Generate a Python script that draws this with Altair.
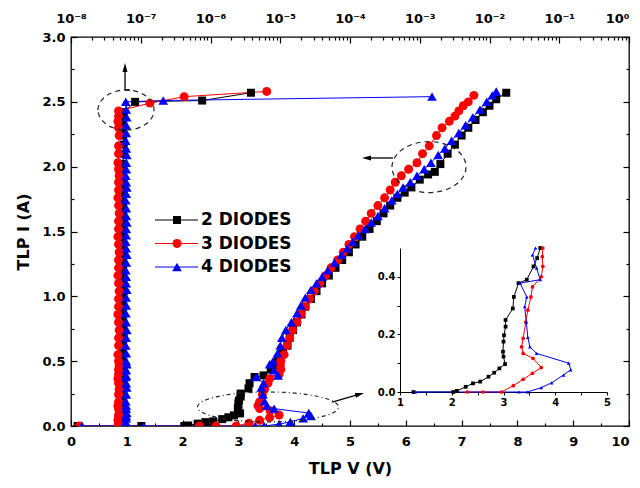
import altair as alt
import pandas as pd

FONT = "DejaVu Sans"

series_names = ["2 DIODES", "3 DIODES", "4 DIODES"]
series_colors = ["#000000", "#ff0000", "#0000ff"]
series_shapes = ["square", "circle", "triangle-up"]
series_sizes = [64, 95, 95]

# ---- TLP I-V data (bottom axis V, left axis I) ----
V_2 = [0.12, 1.26, 2.03, 2.10, 2.27, 2.41, 2.55, 2.71, 2.82, 2.92, 3.03, 3.00, 2.99, 3.00, 3.01, 3.04, 3.04, 3.18,
       3.20, 3.29, 3.45, 3.58, 3.65, 3.71,
       3.80, 3.88, 3.92, 3.98, 4.05, 4.13, 4.20, 4.30, 4.40, 4.50, 4.62, 4.74, 4.86, 4.98, 5.10, 5.22, 5.35, 5.48,
       5.60, 5.72, 5.85, 5.98, 6.10, 6.25, 6.40, 6.52, 6.62, 6.75, 6.88, 7.00, 7.12, 7.25, 7.38, 7.50, 7.62, 7.80]
I_2 = [0, 0, 0, 0.004, 0.018, 0.030, 0.036, 0.053, 0.067, 0.082, 0.097, 0.123, 0.140, 0.175, 0.197, 0.227, 0.250,
       0.290, 0.330, 0.378, 0.390, 0.436, 0.465, 0.500,
       0.56, 0.62, 0.68, 0.74, 0.80, 0.86, 0.92, 0.98, 1.04, 1.10, 1.16, 1.22, 1.28, 1.34, 1.40, 1.46, 1.52, 1.58,
       1.64, 1.70, 1.76, 1.80, 1.84, 1.90, 1.94, 1.96, 2.02, 2.10, 2.17, 2.24, 2.30, 2.36, 2.42, 2.47, 2.52, 2.57]

V_3 = [0.15, 2.30, 2.60, 2.96, 3.19, 3.38, 3.56, 3.73, 3.57, 3.38, 3.35, 3.38, 3.43, 3.47, 3.53, 3.56, 3.73, 3.76,
       3.75, 3.76,
       3.82, 3.87, 3.92, 3.97, 4.05, 4.12, 4.20, 4.28, 4.36, 4.46, 4.56, 4.66, 4.78, 4.88, 4.98, 5.08, 5.18, 5.28,
       5.38, 5.50, 5.62, 5.72, 5.81, 5.92, 6.05, 6.20, 6.30, 6.42, 6.55, 6.65, 6.78, 6.88, 6.95, 7.03, 7.12, 7.22]
I_3 = [0, 0, 0, 0, 0.022, 0.044, 0.065, 0.085, 0.117, 0.134, 0.157, 0.186, 0.243, 0.284, 0.330, 0.365, 0.400, 0.436,
       0.470, 0.500,
       0.55, 0.62, 0.68, 0.74, 0.80, 0.86, 0.92, 0.98, 1.04, 1.10, 1.16, 1.22, 1.28, 1.34, 1.40, 1.46, 1.52, 1.58,
       1.64, 1.70, 1.76, 1.82, 1.88, 1.93, 1.98, 2.03, 2.10, 2.16, 2.24, 2.30, 2.35, 2.39, 2.43, 2.47, 2.50, 2.55]

V_4 = [0.20, 1.30, 3.30, 3.46, 3.73, 3.93, 4.16, 4.30, 4.26, 3.64, 3.51, 3.47, 3.44, 3.41, 3.45, 3.32, 3.71, 3.64,
       3.56, 3.62,
       3.70, 3.75, 3.78, 3.85, 3.95, 4.05, 4.12, 4.20, 4.30, 4.40, 4.50, 4.60, 4.72, 4.85, 4.95, 5.05, 5.15, 5.27,
       5.38, 5.50, 5.62, 5.75, 5.85, 5.95, 6.08, 6.20, 6.33, 6.45, 6.58, 6.70, 6.82, 6.95, 7.07, 7.20, 7.33, 7.45,
       7.55, 7.62]
I_4 = [0, 0, 0, 0, 0.015, 0.032, 0.059, 0.077, 0.100, 0.134, 0.157, 0.190, 0.243, 0.296, 0.330, 0.378, 0.390, 0.430,
       0.476, 0.500,
       0.56, 0.62, 0.68, 0.74, 0.80, 0.87, 0.93, 0.99, 1.05, 1.10, 1.15, 1.20, 1.26, 1.32, 1.37, 1.42, 1.47, 1.52,
       1.57, 1.62, 1.68, 1.74, 1.79, 1.84, 1.88, 1.93, 1.98, 2.03, 2.09, 2.14, 2.20, 2.26, 2.32, 2.38, 2.44, 2.50,
       2.55, 2.58]

# ---- leakage current after each pulse (top log axis), in units of 1e-8 A ----
leak_2_e8 = [5.6, 5.5, 5.7, 5.6, 5.6, 5.5, 5.6, 5.7, 5.6, 5.5,
             5.6, 5.6, 5.7, 5.6, 5.5, 5.6, 5.6, 5.7, 5.6, 5.5,
             5.6, 5.7, 5.6, 5.6, 5.5, 5.6, 5.7, 5.6, 5.6, 5.5,
             5.6, 5.6, 5.7, 5.6, 5.5, 5.6, 5.6, 5.7, 5.6, 5.5,
             5.6, 5.7, 5.6, 5.6, 5.5, 5.6, 5.7, 5.6, 5.6, 5.5,
             5.6, 5.6, 5.7, 5.6, 5.5, 5.6, 5.7,
             8.3, 76.0, 380.0]
leak_2_post_I = [2.50, 2.51, 2.57]

leak_3_e8 = [4.8, 4.7, 4.8, 4.9, 4.8, 4.7, 4.8, 4.8, 4.9, 4.8,
             4.7, 4.8, 4.8, 4.9, 4.8, 4.7, 4.8, 4.8, 4.9, 4.8,
             4.7, 4.8, 4.8, 4.9, 4.8, 4.7, 4.8, 4.8, 4.9, 4.8,
             4.7, 4.8, 4.8, 4.9, 4.8, 4.7, 4.8, 4.8, 4.9, 4.8,
             4.7, 4.8, 4.8, 4.9, 4.8, 4.7, 4.8, 4.8, 4.9, 4.8,
             4.7, 4.8, 4.8,
             13.5, 42.0, 640.0]
leak_3_post_I = [2.49, 2.54, 2.58]

leak_4_e8 = [6.2, 6.1, 6.2, 6.3, 6.2, 6.1, 6.2, 6.2, 6.3, 6.2,
             6.2, 6.1, 6.2, 6.3, 6.2, 6.1, 6.2, 6.2, 6.3, 6.2,
             6.2, 6.1, 6.2, 6.3, 6.2, 6.1, 6.2, 6.2, 6.3, 6.2,
             6.2, 6.1, 6.2, 6.3, 6.2, 6.1, 6.2, 6.2, 6.3, 6.2,
             6.2, 6.1, 6.2, 6.3, 6.2, 6.1, 6.2, 6.2, 6.3, 6.2,
             6.1, 6.2, 6.2, 6.3, 6.2, 6.1,
             21.0, 150000.0]
leak_4_post_I = [2.51, 2.54]

# ---- tick values / labels ----
x_ticks = list(range(0, 11))
x_minor = [k + 0.5 for k in range(10)]
y_ticks = [0.0, 0.5, 1.0, 1.5, 2.0, 2.5, 3.0]
y_minor = [0.25, 0.75, 1.25, 1.75, 2.25, 2.75]
top_ticks = [1e-8, 1e-7, 1e-6, 1e-5, 1e-4, 1e-3, 1e-2, 1e-1, 1e0]
top_labels = ["10⁻⁸", "10⁻⁷", "10⁻⁶", "10⁻⁵", "10⁻⁴", "10⁻³", "10⁻²", "10⁻¹", "10⁰"]
top_minor = [m * 10.0 ** e for e in range(-8, 0) for m in range(2, 10)]
inset_x_ticks = [1, 1.5, 2, 2.5, 3, 3.5, 4, 4.5, 5]
inset_y_ticks = [0.0, 0.1, 0.2, 0.3, 0.4]

# ---- build tables ----
frames, leak_frames = [], []
for name, V, I, lk, post in zip(series_names, [V_2, V_3, V_4], [I_2, I_3, I_4],
                                [leak_2_e8, leak_3_e8, leak_4_e8],
                                [leak_2_post_I, leak_3_post_I, leak_4_post_I]):
    frames.append(pd.DataFrame({"series": name, "V": V, "I": I, "idx": list(range(len(V)))}))
    n_col = len(lk) - len(post)
    LI = list(I[:n_col]) + list(post)
    leak_frames.append(pd.DataFrame({"series": name, "L": [v * 1e-8 for v in lk], "I": LI,
                                     "idx": list(range(len(lk)))}))
tlp = pd.concat(frames, ignore_index=True)
leak = pd.concat(leak_frames, ignore_index=True)
inset_df = tlp[(tlp["V"] >= 1) & (tlp["I"] <= 0.5)]

W, H = 558, 389

color_enc = alt.Color("series:N", scale=alt.Scale(domain=series_names, range=series_colors), legend=None)
shape_enc = alt.Shape("series:N", scale=alt.Scale(domain=series_names, range=series_shapes), legend=None)
size_enc = alt.Size("series:N", scale=alt.Scale(domain=series_names, range=series_sizes), legend=None)

lab = dict(labelFont=FONT, labelFontWeight="bold", labelColor="black", tickColor="black",
           grid=False, labelFlush=False, labelOverlap=False)

x_lin = alt.Scale(domain=[0, 10], nice=False, zero=False)
y_lin = alt.Scale(domain=[0, 3], nice=False, zero=False)
x_log = alt.Scale(type="log", domain=[1e-8, 1], nice=False)

# ---- main TLP layer ----
main_x = alt.X("V:Q", scale=x_lin, axis=alt.Axis(
    orient="bottom", values=x_ticks, tickSize=6, offset=-6, domain=False, tickWidth=1.2,
    labelAlign={"condition": {"test": "datum.value >= 10", "value": "right"}, "value": "center"},
    labelFontSize=13, labelPadding=9, title="TLP V (V)", titleFont=FONT, titleFontSize=16,
    titleFontWeight="bold", titleColor="black", titlePadding=12, **lab))
main_y = alt.Y("I:Q", scale=y_lin, axis=alt.Axis(
    orient="left", values=y_ticks, format=".1f", tickSize=6, offset=-6, domain=False, tickWidth=1.2,
    labelFontSize=13, labelPadding=6, title="TLP I (A)", titleFont=FONT, titleFontSize=16,
    titleFontWeight="bold", titleColor="black", titlePadding=10, **lab))
main_base = alt.Chart(tlp).encode(x=main_x, y=main_y, color=color_enc)
main = alt.layer(
    main_base.mark_line(strokeWidth=1, clip=True).encode(order="idx:Q"),
    main_base.mark_point(filled=True, opacity=1, clip=True).encode(shape=shape_enc, size=size_enc),
)

# ---- leakage layer (top log axis, right axis ticks) ----
top_expr = "[" + ",".join("'" + s + "'" for s in top_labels) + "][round(log(datum.value)/LN10)+8]"
leak_x = alt.X("L:Q", scale=x_log, axis=alt.Axis(
    orient="top", values=top_ticks, labelExpr=top_expr, tickSize=6, offset=-6, domain=False, tickWidth=1.2,
    labelAlign={"condition": {"test": "datum.value >= 1", "value": "right"}, "value": "center"},
    labelFontSize=13, labelPadding=12, title=None, **lab))
leak_y = alt.Y("I:Q", scale=y_lin, axis=alt.Axis(
    orient="right", values=y_ticks, labels=False, tickSize=6, offset=-6, domain=False, tickWidth=1.2,
    title=None, tickColor="black", grid=False))
leak_base = alt.Chart(leak).encode(x=leak_x, y=leak_y, color=color_enc)
leak_layer = alt.layer(
    leak_base.mark_line(strokeWidth=1, clip=True).encode(order="idx:Q"),
    leak_base.mark_point(filled=True, opacity=1, clip=True).encode(shape=shape_enc, size=size_enc),
)

# ---- minor tick layers ----
dummy_lin = pd.DataFrame({"a": [0, 10], "b": [0, 3]})
dummy_log = pd.DataFrame({"a": [1e-8, 1], "b": [0, 3]})
minor_a = alt.Chart(dummy_lin).mark_point(opacity=0).encode(
    x=alt.X("a:Q", scale=x_lin, axis=alt.Axis(orient="bottom", values=x_minor, labels=False, tickSize=3,
                                               offset=-3, domain=False, title=None, tickColor="black",
                                               tickWidth=1.2, grid=False)),
    y=alt.Y("b:Q", scale=y_lin, axis=alt.Axis(orient="left", values=y_minor, labels=False, tickSize=3,
                                               offset=-3, domain=False, title=None, tickColor="black",
                                               tickWidth=1.2, grid=False)))
minor_b = alt.Chart(dummy_log).mark_point(opacity=0).encode(
    x=alt.X("a:Q", scale=x_log, axis=alt.Axis(orient="top", values=top_minor, labels=False, tickSize=3,
                                               offset=-3, domain=False, title=None, tickColor="black",
                                               tickWidth=1.2, grid=False)),
    y=alt.Y("b:Q", scale=y_lin, axis=alt.Axis(orient="right", values=y_minor, labels=False, tickSize=3,
                                               offset=-3, domain=False, title=None, tickColor="black",
                                               tickWidth=1.2, grid=False)))

# ---- inset ----
inset_x = alt.X("V:Q", scale=alt.Scale(domain=[1, 5], range=[329, 536], nice=False, zero=False),
                axis=alt.Axis(orient="bottom", offset=-34, values=inset_x_ticks, format=".0f",
                              labelExpr="datum.value % 1 == 0 ? datum.label : ''", tickSize=3,
                              domain=True, domainColor="black", domainWidth=1, labelFontSize=10,
                              labelPadding=2, title=None, **lab))
inset_y = alt.Y("I:Q", scale=alt.Scale(domain=[0, 0.5], range=[355, 211], nice=False, zero=False),
                axis=alt.Axis(orient="left", offset=-329, values=inset_y_ticks, format=".1f",
                              labelExpr="(round(datum.value*10) % 2 == 0) ? datum.label : ''", tickSize=3,
                              domain=True, domainColor="black", domainWidth=1, labelFontSize=10,
                              labelPadding=2, title=None, **lab))
inset_base = alt.Chart(inset_df).encode(x=inset_x, y=inset_y, color=color_enc)
inset = alt.layer(
    inset_base.mark_line(strokeWidth=1).encode(order="idx:Q"),
    inset_base.mark_point(filled=True, opacity=1, size=14).encode(shape=shape_enc),
)

# ---- annotations (dashed ellipses and arrows) in main data coordinates ----
def ax(field):
    return alt.X(field, scale=x_lin, axis=None)

def ay(field):
    return alt.Y(field, scale=y_lin, axis=None)

def ellipse(cx, cy, w, h, dash):
    r = h / w
    path = f"M -1 0 A 1 {r:.3f} 0 1 1 1 0 A 1 {r:.3f} 0 1 1 -1 0 Z"
    return alt.Chart(pd.DataFrame({"x": [cx], "y": [cy]})).mark_point(
        shape=path, size=w * w, filled=False, stroke="#222222", strokeWidth=1.2, strokeDash=dash, opacity=1
    ).encode(x=ax("x:Q"), y=ay("y:Q"))

arrow_lines = pd.DataFrame({
    "x": [0.968, 0.968, 5.77, 4.68],
    "y": [2.591, 2.591, 2.067, 0.185],
    "x2": [0.968, 1.057, 5.30, 5.174],
    "y2": [2.765, 2.591, 2.067, 0.245],
})
arrow_heads = pd.DataFrame({"x": [0.968, 5.296, 5.174], "y": [2.765, 2.067, 0.245], "ang": [0, 270, 74]})

lines_chart = alt.Chart(arrow_lines).mark_rule(color="black", strokeWidth=1.3).encode(
    x=ax("x:Q"), y=ay("y:Q"), x2="x2:Q", y2="y2:Q")
heads_chart = alt.Chart(arrow_heads).mark_point(
    shape="M 0 -1 L 0.55 1 L -0.55 1 Z", filled=True, color="black", size=81, opacity=1
).encode(x=ax("x:Q"), y=ay("y:Q"), angle=alt.Angle("ang:Q", scale=None))

e1 = ellipse(0.986, 2.437, 56, 40, [5, 4])
e2 = ellipse(6.416, 1.997, 74, 51, [5, 4])
e3 = ellipse(3.53, 0.1465, 141, 30, [4, 3, 1, 3])

# ---- legend ----
legend_df = pd.DataFrame({"series": series_names})
leg_y = alt.Y("series:N", scale=alt.Scale(type="point", domain=series_names, range=[183, 230], padding=0),
              axis=None)
legend = alt.layer(
    alt.Chart(legend_df).mark_rule(strokeWidth=1).encode(x=alt.value(84), x2=alt.value(127), y=leg_y,
                                                          color=color_enc),
    alt.Chart(legend_df).mark_point(filled=True, opacity=1).encode(x=alt.value(106), y=leg_y, color=color_enc,
                                                                   shape=shape_enc, size=size_enc),
    alt.Chart(legend_df).mark_text(align="left", baseline="middle", font=FONT, fontWeight="bold",
                                   fontSize=17, color="black").encode(x=alt.value(130), y=leg_y,
                                                                      text="series:N"),
)

chart = alt.layer(
    minor_a, minor_b, main, leak_layer, inset, e1, e2, e3, lines_chart, heads_chart, legend
).resolve_scale(x="independent", y="independent").properties(
    width=W, height=H, autosize=alt.AutoSizeParams(type="none"),
    padding={"left": 63, "top": 29, "right": 3, "bottom": 54},
).configure_view(stroke="black", strokeWidth=1.3)

chart.save("out.html", embed_options={"renderer": "svg", "actions": False})
